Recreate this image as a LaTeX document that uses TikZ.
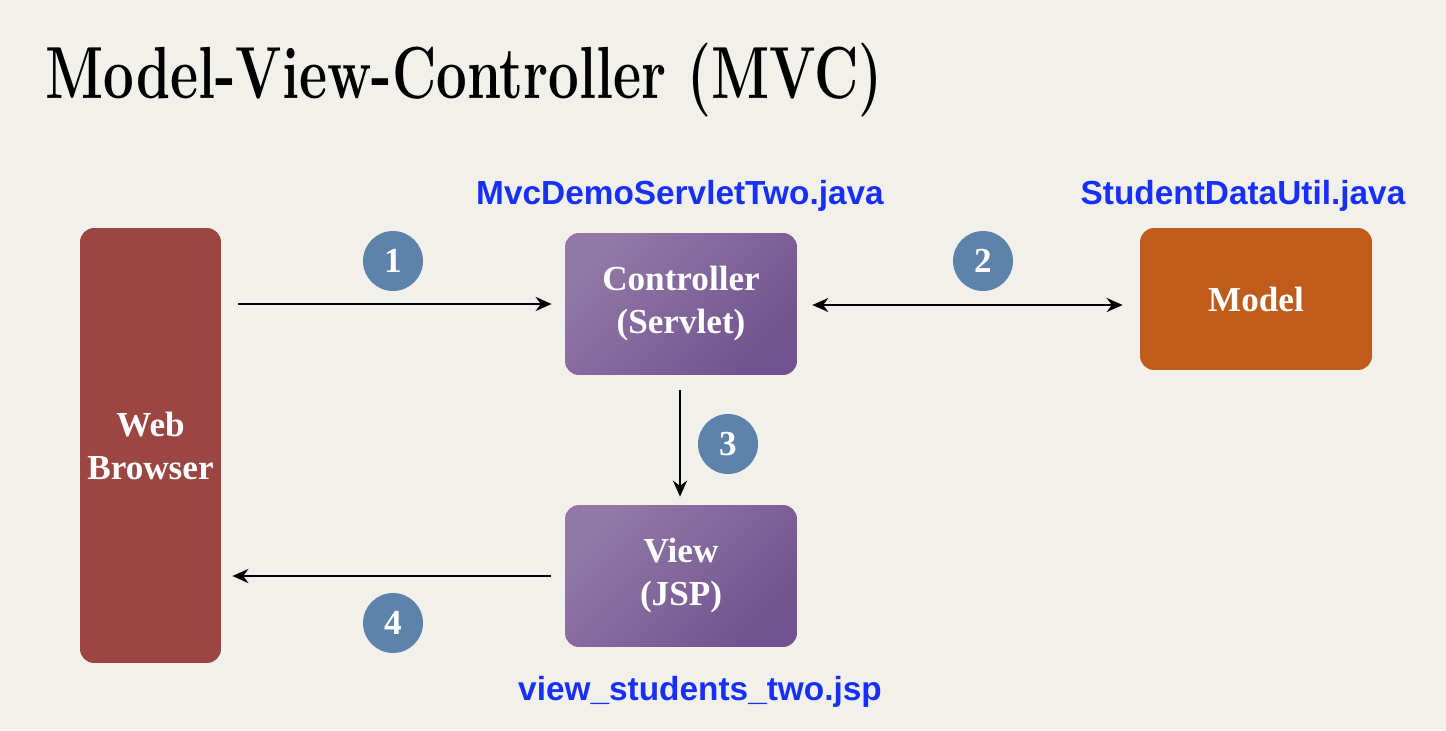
\documentclass[tikz,border=0pt]{standalone}
\usepackage{fontspec}
\newfontfamily\boxfont{Liberation Serif}
\setsansfont{Liberation Sans}
\usetikzlibrary{arrows.meta,positioning}
\definecolor{paper}{RGB}{242,240,235}
\definecolor{browserred}{RGB}{155,70,66}
\definecolor{ctrlA}{RGB}{145,121,166}
\definecolor{ctrlB}{RGB}{113,83,143}
\definecolor{modelorange}{RGB}{192,92,27}
\definecolor{stepblue}{RGB}{94,131,170}
\definecolor{fileblue}{RGB}{22,48,250}
\begin{document}
\begin{tikzpicture}[x=0.02cm, y=-0.02cm]
        \tikzset{
            box/.style = {rectangle, rounded corners=0.28cm, minimum width=4.64cm, minimum height=2.84cm, align=center, text=white, font=\boxfont\bfseries\fontsize{20}{24.5}\selectfont},
            purplebox/.style = {box, top color=ctrlA, bottom color=ctrlB, shading angle=45},
            stepnum/.style = {circle, fill=stepblue, minimum size=1.2cm, inner sep=0pt, text=white, font=\boxfont\bfseries\fontsize{20}{20}\selectfont},
            fname/.style = {anchor=base, inner sep=0pt, text=fileblue, font=\sffamily\bfseries\fontsize{19}{19}\selectfont},
            arrow/.style = {line width=1.4pt, -{Stealth[length=0.32cm, width=0.28cm]}},
            dblarrow/.style = {line width=1.4pt, {Stealth[length=0.32cm, width=0.28cm]}-{Stealth[length=0.32cm, width=0.28cm]}}
        }
        \fill[paper] (0,0) rectangle (1446,730);
        \node (title) [anchor=base west, inner sep=0pt] at (45,98) {\scalebox{0.74}[1]{\fontsize{42}{42}\selectfont\bfseries Model-View-Controller (MVC)}};

        \node (browser) [box, fill=browserred, minimum width=2.82cm, minimum height=8.7cm] at (150.5,445.5) {Web\\Browser};
        \node (ctrl) [purplebox] at (681,304) {Controller\\(Servlet)};
        \node (model) [box, fill=modelorange] at (1256,299) {Model};
        \node (view) [purplebox] at (681,576) {View\\(JSP)};

        \node (ctrlfile) [fname] at (680,204) {MvcDemoServletTwo.java};
        \node (modelfile) [fname] at (1243,204) {StudentDataUtil.java};
        \node (viewfile) [fname] at (700,700) {view\_students\_two.jsp};

        \node (n1) [stepnum] at (393,261) {1};
        \node (n2) [stepnum] at (983,261) {2};
        \node (n3) [stepnum] at (728,444) {3};
        \node (n4) [stepnum] at (393,623) {4};

        \draw [arrow, shorten <=0.34cm, shorten >=0.26cm] (browser.east |- ctrl.west) -- (ctrl.west);
        \draw [dblarrow, shorten <=0.3cm, shorten >=0.34cm] ([yshift=-0.02cm]ctrl.east) -- ([yshift=-0.02cm]ctrl.east -| model.west);
        \draw [arrow, shorten <=0.3cm, shorten >=0.16cm] ([xshift=-0.02cm]ctrl.south) -- ([xshift=-0.02cm]view.north);
        \draw [arrow, shorten <=0.28cm, shorten >=0.22cm] (view.west) -- (view.west -| browser.east);
    \end{tikzpicture}
\end{document}
